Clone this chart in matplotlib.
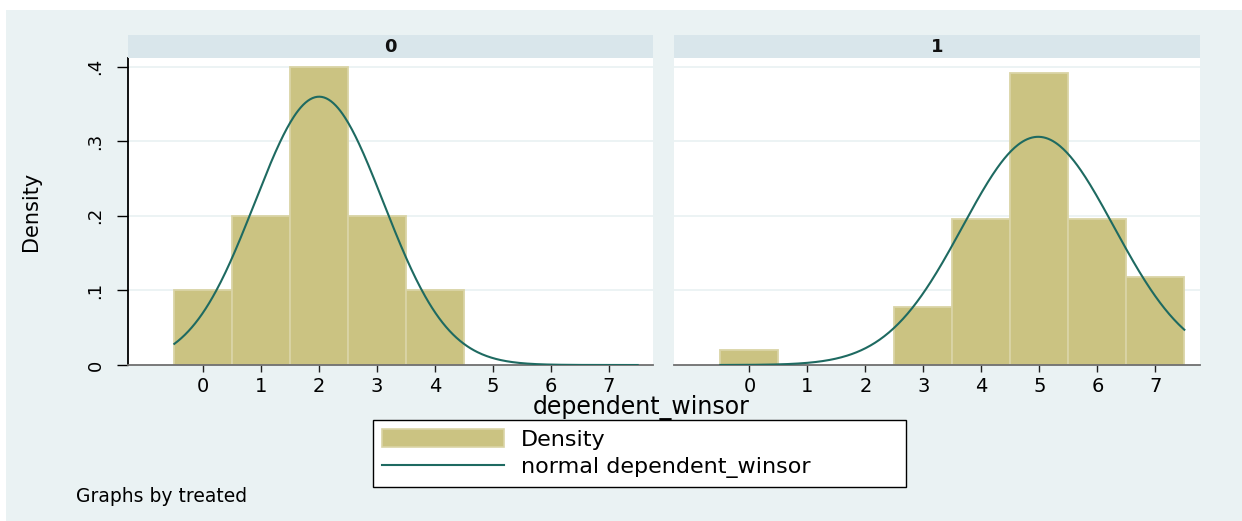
import numpy as np
import matplotlib
matplotlib.use("Agg")
import matplotlib.pyplot as plt
from matplotlib.patches import Rectangle, Patch
from matplotlib.lines import Line2D

# ---------------- data ----------------
panel_labels = ["0", "1"]
bins_0 = [0, 1, 2, 3, 4]
density_0 = [0.1, 0.2, 0.4, 0.2, 0.1]
bins_1 = [0, 3, 4, 5, 6, 7]
density_1 = [0.0196, 0.0784, 0.196, 0.392, 0.196, 0.1176]
normal_mean = [2.0, 4.98]
normal_sd = [1.109, 1.304]
curve_span = [-0.5, 7.5]
x_ticks = [0, 1, 2, 3, 4, 5, 6, 7]
y_ticks = [0, 0.1, 0.2, 0.3, 0.4]
y_tick_labels = ["0", ".1", ".2", ".3", ".4"]
x_title = "dependent_winsor"
y_title = "Density"
legend_labels = ["Density", "normal dependent_winsor"]
note = "Graphs by treated"

# ---------------- style ----------------
W, H = 1242, 521
BG = "#EAF2F3"
STRIP = "#D9E6EB"
BAR = "#CBC382"
BAR_EDGE = "#DAD4A6"
LINE = "#1E6A61"
FONT = "DejaVu Sans"
plt.rcParams["font.family"] = [FONT]

fig = plt.figure(figsize=(W / 100, H / 100), dpi=100)
fig.patch.set_facecolor("white")
fig.add_artist(Rectangle((6 / W, 0), 1 - 6 / W, 1 - 10 / H, transform=fig.transFigure,
                         facecolor=BG, edgecolor="none", zorder=-10))

def fx(px):
    return px / W

def fy(py):
    return (H - py) / H

ax_left = [128, 674]
ax_right = [653.3, 1200]
ax_top, ax_bot, strip_top = 57.7, 365.0, 35.0

bins_all = [bins_0, bins_1]
dens_all = [density_0, density_1]
xs = np.linspace(curve_span[0], curve_span[1], 400)

for i in range(2):
    l, r = ax_left[i], ax_right[i]
    ax = fig.add_axes([fx(l), fy(ax_bot), (r - l) / W, (ax_bot - ax_top) / H])
    ax.set_facecolor("white")
    ax.bar(bins_all[i], dens_all[i], width=1.0, align="center", color=BAR,
           edgecolor=BAR_EDGE, linewidth=1.3, zorder=2)
    mu, sd = normal_mean[i], normal_sd[i]
    ys = np.exp(-0.5 * ((xs - mu) / sd) ** 2) / (sd * np.sqrt(2 * np.pi))
    ax.plot(xs, ys, color=LINE, lw=1.5, zorder=3)
    ax.set_xlim(-1.3, 7.77)
    ax.set_ylim(0, 0.412)
    ax.set_axisbelow(True)
    for yv in y_ticks[1:]:
        ax.axhline(yv, color=BG, lw=1.3, zorder=0)
    ax.set_xticks(x_ticks)
    ax.set_xticklabels([str(t) for t in x_ticks], fontsize=14)
    ax.tick_params(axis="x", length=5, width=1, color="#222222", pad=4)
    for s in ["top", "right"]:
        ax.spines[s].set_visible(False)
    ax.spines["bottom"].set_color("#6f6f6f")
    ax.spines["bottom"].set_linewidth(1.3)
    if i == 0:
        ax.spines["left"].set_color("black")
        ax.spines["left"].set_linewidth(1.3)
        ax.set_yticks(y_ticks)
        ax.set_yticklabels(y_tick_labels, fontsize=13, rotation=90, va="center")
        ax.tick_params(axis="y", length=8, width=1, pad=9)
    else:
        ax.spines["left"].set_visible(False)
        ax.set_yticks([])
    # strip
    sax = fig.add_axes([fx(l), fy(ax_top), (r - l) / W, (ax_top - strip_top) / H])
    sax.set_facecolor(STRIP)
    sax.set_xticks([]); sax.set_yticks([])
    for s in sax.spines.values():
        s.set_visible(False)
    sax.text(0.5, 0.45, panel_labels[i], transform=sax.transAxes, ha="center",
             va="center", fontsize=13, fontweight="bold", color="#111111")

fig.text(fx(31), fy(211), y_title, rotation=90, ha="center", va="center", fontsize=15)
fig.text(fx(641), fy(408), x_title, ha="center", va="center", fontsize=17)
fig.text(fx(76), fy(496), note, ha="left", va="center", fontsize=13.5)

handles = [Patch(facecolor=BAR, edgecolor=BAR_EDGE, linewidth=1.2),
           Line2D([0], [0], color=LINE, lw=1.5)]
leg = fig.legend(handles, legend_labels, loc="lower left",
                 bbox_to_anchor=(fx(373), fy(487), (906 - 373) / W, (487 - 421) / H),
                 mode="expand", borderaxespad=0, fontsize=16, frameon=True,
                 fancybox=False, edgecolor="black", facecolor="white", framealpha=1,
                 handlelength=5.5, handleheight=0.85, handletextpad=0.75,
                 borderpad=0.4, labelspacing=0.3)
leg.get_frame().set_linewidth(1.0)

fig.savefig("out.png", dpi=100)
